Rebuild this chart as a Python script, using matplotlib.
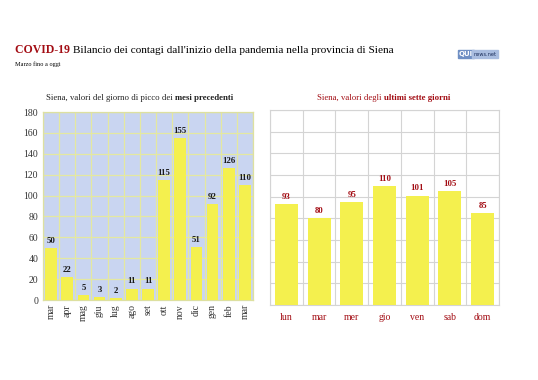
import matplotlib
matplotlib.use("Agg")
import matplotlib.pyplot as plt
import numpy as np

plt.rcParams['font.family'] = ['Liberation Serif', 'DejaVu Serif']

months = ["mar", "apr", "mag", "giu", "lug", "ago", "set", "ott", "nov", "dic", "gen", "feb", "mar"]
month_values = [50, 22, 5, 3, 2, 11, 11, 115, 155, 51, 92, 126, 110]
days = ["lun", "mar", "mer", "gio", "ven", "sab", "dom"]
day_values = [93, 80, 95, 110, 101, 105, 85]
yticks = [0, 20, 40, 60, 80, 100, 120, 140, 160, 180]

RED = "#a30d14"
BAR = "#f4f04e"
W, H = 538, 380

fig = plt.figure(figsize=(5.38, 3.8), dpi=100)
fig.patch.set_facecolor("white")
renderer = fig.canvas.get_renderer()


def segments(x_px, y_px, parts, ha="left"):
    """Draw text segments one after another. parts: list of (text, kwargs)."""
    arts = []
    for txt, kw in parts:
        arts.append(fig.text(0, 0, txt, va="baseline", ha="left", **kw))
    widths = [a.get_window_extent(renderer).width for a in arts]
    total = sum(widths)
    start = x_px - (total / 2 if ha == "center" else 0)
    cur = start
    for a, w in zip(arts, widths):
        a.set_position((cur / W, 1 - y_px / H))
        cur += w
    return arts


# Title
segments(15, 53, [("COVID-19 ", dict(color=RED, fontsize=8.5, fontweight="bold")),
                  ("Bilancio dei contagi dall'inizio della pandemia nella provincia di Siena",
                   dict(color="black", fontsize=8.1))])
fig.text(15/W, 1-66/H, "Marzo fino a oggi", color="black", fontsize=4.5, va="baseline", ha="left")
# logo
fig.text(473/W, 1-54/H, "QUI", color="white", fontsize=5, fontweight="bold", va="center", ha="right",
         family="DejaVu Sans",
         bbox=dict(boxstyle="square,pad=0.15", fc="#6f8fc4", ec="#6f8fc4"))
fig.text(473.5/W, 1-54.3/H, "news.net", color="#1a2d5a", fontsize=3.6, va="center", ha="left",
         family="DejaVu Sans",
         bbox=dict(boxstyle="square,pad=0.3", fc="#a9bde0", ec="#a9bde0"))

# Left chart
axL = fig.add_axes([43/W, 1-300/H, 210/W, 188/H])
x = np.arange(len(months))
axL.set_facecolor("#c9d5f1")
axL.bar(x, month_values, width=0.72, color=BAR, zorder=3)
axL.set_xlim(-0.5, len(months)-0.5)
axL.set_ylim(0, 180)
axL.set_yticks(yticks)
axL.set_xticks(x)
axL.set_xticklabels(months, rotation=90, fontsize=7)
axL.set_xticks(np.arange(len(months)+1)-0.5, minor=True)
axL.tick_params(axis="both", which="both", length=0, labelsize=7, colors="#333333")
axL.tick_params(axis="x", pad=3)
axL.grid(True, axis="y", which="major", color="#e4e8a0", lw=0.9, zorder=1)
axL.grid(True, axis="x", which="minor", color="#e4e8a0", lw=0.9, zorder=1)
axL.grid(False, axis="x", which="major")
for s in axL.spines.values():
    s.set_color("#dde0a0")
    s.set_linewidth(0.9)
for xi, v in zip(x, month_values):
    axL.text(xi, v + 3, str(v), ha="center", va="bottom", fontsize=6.3, fontweight="bold", color="#1a1a1a", zorder=4)
segments(140, 100, [("Siena, valori del giorno di picco dei ", dict(color="#222222", fontsize=6.3)),
                    ("mesi precedenti", dict(color="#222222", fontsize=6.3, fontweight="bold"))],
         ha="center")

# Right chart
axR = fig.add_axes([270/W, 1-305/H, 229/W, 195/H])
xd = np.arange(len(days))
axR.set_facecolor("white")
axR.bar(xd, day_values, width=0.7, color=BAR, zorder=3)
axR.set_xlim(-0.5, len(days)-0.5)
axR.set_ylim(0, 180)
axR.set_yticks(yticks)
axR.set_yticklabels([])
axR.set_xticks(xd)
axR.set_xticklabels(days, fontsize=7, color=RED)
axR.set_xticks(np.arange(len(days)+1)-0.5, minor=True)
axR.tick_params(axis="both", which="both", length=0)
axR.tick_params(axis="x", pad=6)
axR.grid(True, axis="y", which="major", color="#d4d4d4", lw=0.8, zorder=1)
axR.grid(True, axis="x", which="minor", color="#d4d4d4", lw=0.8, zorder=1)
axR.grid(False, axis="x", which="major")
for s in axR.spines.values():
    s.set_color("#d4d4d4")
    s.set_linewidth(0.8)
for xi, v in zip(xd, day_values):
    axR.text(xi, v + 3, str(v), ha="center", va="bottom", fontsize=6.3, fontweight="bold", color=RED, zorder=4)
segments(384, 100, [("Siena, valori degli ", dict(color=RED, fontsize=6.3)),
                    ("ultimi sette giorni", dict(color=RED, fontsize=6.3, fontweight="bold"))],
         ha="center")

fig.savefig("out.png", dpi=100)
